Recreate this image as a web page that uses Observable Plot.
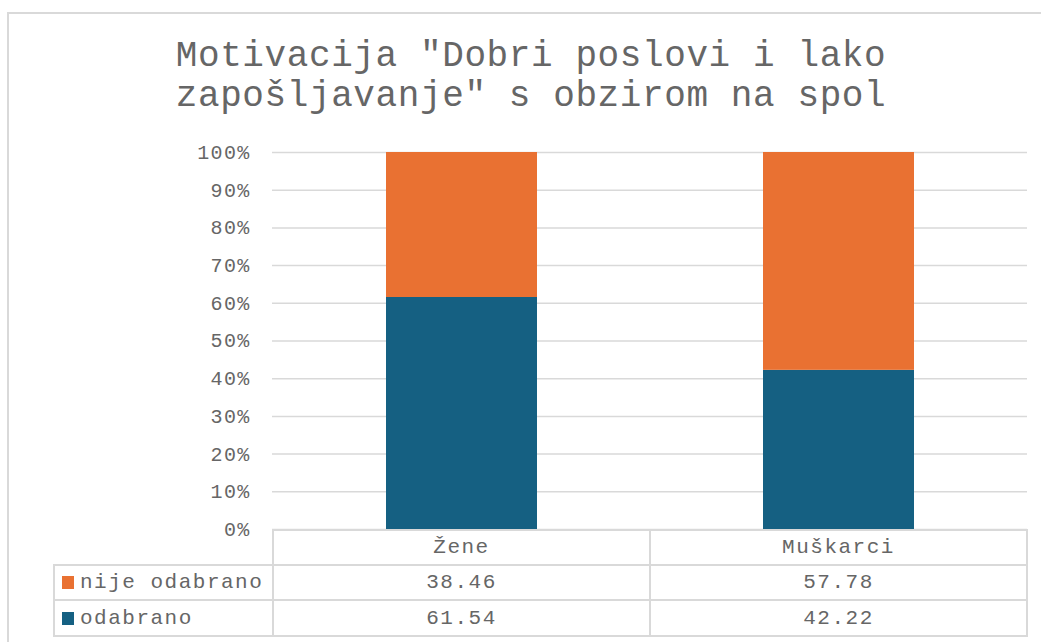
<!DOCTYPE html>
<html>
<head>
<meta charset="utf-8">
<script src="https://cdn.jsdelivr.net/npm/d3@7"></script>
<script src="https://cdn.jsdelivr.net/npm/@observablehq/plot@0.6"></script>
<style>
  html, body { margin: 0; padding: 0; background: #fff; }
  body { width: 1041px; height: 642px; overflow: hidden; position: relative; font-family: "Liberation Mono", monospace; color: #666666; }
  #frame { position: absolute; left: 7px; top: 12px; width: 1200px; height: 800px; border: 2px solid #d9d9d9; }
  #title { position: absolute; top: 37px; left: 0; width: 1062px; text-align: center; font-size: 36px; line-height: 40px; letter-spacing: 0.6px; }
  #chart { position: absolute; top: 140px; left: 0; }
  #chart svg text { letter-spacing: 1.3px; }
  #tbl { position: absolute; top: 529px; left: 53px; border-collapse: collapse; font-size: 21px; letter-spacing: 1.5px; }
  #tbl td { border: 2px solid #d9d9d9; padding: 0; text-align: center; }
  #tbl td.blank { border-top: none; border-left: none; }
  #tbl td.leg { text-align: left; padding-left: 7px; }
  #tbl .key { display: inline-block; width: 12px; height: 13px; margin-right: 6px; vertical-align: -1px; }
</style>
</head>
<body>
<div id="frame"></div>
<div id="title"></div>
<div id="chart"></div>
<table id="tbl"></table>
<script>
const titleLines = ['Motivacija "Dobri poslovi i lako', 'zapošljavanje" s obzirom na spol'];
const categories = ["Žene", "Muškarci"];
const seriesNames = ["odabrano", "nije odabrano"];
const odabrano = [61.54, 42.22];
const nijeOdabrano = [38.46, 57.78];
const seriesColors = ["#156082", "#E97132"];
const yTicks = [0, 10, 20, 30, 40, 50, 60, 70, 80, 90, 100];

document.getElementById("title").innerHTML = titleLines.join("<br>");

const seriesValues = [odabrano, nijeOdabrano];
const rows = [];
seriesNames.forEach((s, si) => {
  categories.forEach((c, ci) => rows.push({cat: c, series: s, value: seriesValues[si][ci]}));
});

const chart = Plot.plot({
  width: 1041,
  height: 420,
  marginLeft: 272,
  marginRight: 14,
  marginTop: 12,
  marginBottom: 31,
  style: {fontFamily: "Liberation Mono", fontSize: "20px", color: "#666666", background: "transparent"},
  x: {domain: categories, paddingInner: 0.6, paddingOuter: 0.3, axis: null},
  y: {domain: [0, 100], ticks: yTicks, tickFormat: d => d + "%", tickSize: 0, tickPadding: 22, label: null},
  color: {domain: seriesNames, range: seriesColors},
  marks: [
    Plot.gridY(yTicks, {stroke: "#d9d9d9", strokeOpacity: 1, strokeWidth: 1.5}),
    Plot.barY(rows, {x: "cat", y: "value", fill: "series", order: seriesNames}),
    Plot.axisY(yTicks, {tickSize: 0, tickPadding: 22, tickFormat: d => d + "%", label: null})
  ]
});
document.getElementById("chart").appendChild(chart);

// data table
const tbl = document.getElementById("tbl");
let html = '<tr style="height:35px"><td class="blank" style="width:218px"></td>' +
  categories.map(c => `<td style="width:375px">${c}</td>`).join("") + '</tr>';
const tableOrder = [1, 0];
const rowHeights = [35, 36];
tableOrder.forEach((si, ri) => {
  html += `<tr style="height:${rowHeights[ri]}px"><td class="leg"><span class="key" style="background:${seriesColors[si]}"></span>${seriesNames[si]}</td>` +
    seriesValues[si].map(v => `<td>${v.toFixed(2)}</td>`).join("") + '</tr>';
});
tbl.innerHTML = html;
</script>
</body>
</html>
